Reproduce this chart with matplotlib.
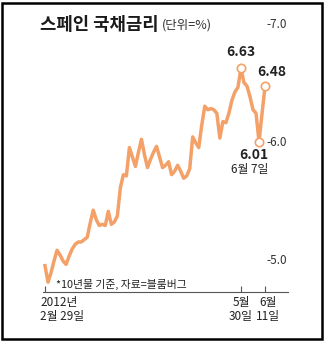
import matplotlib
matplotlib.use("Agg")
import matplotlib.pyplot as plt
from matplotlib.patches import Rectangle

plt.rcParams['font.family'] = ['Noto Sans CJK KR', 'DejaVu Sans']

# 스페인 10년물 국채금리 (2012.2.29 ~ 6.11, 영업일 기준)
rates = [4.96, 4.82, 4.90, 5.00, 5.09, 5.05, 5.00, 4.97, 5.04, 5.10,
         5.14, 5.16, 5.16, 5.18, 5.20, 5.32, 5.43, 5.35, 5.30, 5.31,
         5.30, 5.42, 5.31, 5.33, 5.38, 5.62, 5.73, 5.72, 5.96, 5.88,
         5.80, 5.92, 6.03, 5.90, 5.79, 5.86, 5.92, 5.97, 5.88, 5.79,
         5.81, 5.84, 5.73, 5.76, 5.81, 5.76, 5.70, 5.72, 5.78, 6.05,
         6.00, 5.96, 6.15, 6.31, 6.28, 6.29, 6.28, 6.25, 6.04, 6.18,
         6.17, 6.25, 6.36, 6.43, 6.47, 6.63, 6.51, 6.48, 6.39, 6.28,
         6.25, 6.01, 6.25, 6.48]
tick_idx = [0, 65, 73]
tick_labels = ["2012년\n2월 29일", "5월\n30일", "6월\n11일"]
y_levels = [7.0, 6.0, 5.0]
marks = {65: "6.63", 73: "6.48", 71: "6.01"}

line_color = "#F4A169"

fig = plt.figure(figsize=(3.25, 3.44), dpi=100)
ax = fig.add_axes([0.1323, 0.1512, 0.7538, 0.7907])

x = list(range(len(rates)))
ax.plot(x, rates, color=line_color, lw=2.5, solid_joinstyle='round', zorder=2)
for i in marks:
    ax.plot(i, rates[i], 'o', ms=6, mfc='white', mec=line_color, mew=1.2, zorder=3)

ax.set_xlim(-0.66, 80.6)
ax.set_ylim(4.737, 7.04)

# 축 정리
for s in ['left', 'top', 'right']:
    ax.spines[s].set_visible(False)
ax.spines['bottom'].set_color('#555555')
ax.spines['bottom'].set_linewidth(0.8)
ax.set_yticks([])
ax.set_xticks(tick_idx)
ax.set_xticklabels([])
ax.tick_params(axis='x', direction='in', length=4, width=0.8, color='#555555')

# 날짜 라벨 (겹치지 않게 직접 배치)
xtrans = ax.get_xaxis_transform()
label_pos = [(-1.6, 'left'), (65, 'center'), (73.9, 'center')]
for (px, ha), lab in zip(label_pos, tick_labels):
    ax.text(px, -0.015, lab, transform=xtrans, ha=ha, va='top',
            fontsize=8.5, linespacing=1.05, color='#222222')

# 오른쪽 눈금 값
ytrans = ax.get_yaxis_transform()
for v in y_levels:
    ax.text(0.914, v, "-%.1f" % v, transform=ytrans, fontsize=8.5,
            va='center', ha='left', color='#333333')

# 값 표시
ax.text(65, rates[65] + 0.14, marks[65], ha='center', va='center',
        fontsize=10, fontweight='bold', color='#222222')
ax.text(75.3, rates[73] + 0.12, marks[73], ha='center', va='center',
        fontsize=10, fontweight='bold', color='#222222')
ax.text(74, rates[71] - 0.05, marks[71], ha='right', va='top',
        fontsize=10, fontweight='bold', color='#222222')
ax.text(74, rates[71] - 0.18, "6월 7일", ha='right', va='top',
        fontsize=8.5, color='#222222')

ax.text(3.5, 4.80, "*10년물 기준, 자료=블룸버그", ha='left', va='center',
        fontsize=7.8, color='#222222')

# 제목
fig.text(40 / 325, 1 - 25 / 344, "스페인 국채금리", fontsize=12.8,
         fontweight='bold', ha='left', va='center', color='#1a1a1a')
fig.text(162 / 325, 1 - 25 / 344, "(단위=%)", fontsize=9,
         ha='left', va='center', color='#333333')

# 테두리
fig.patches.append(Rectangle((1.5 / 325, 5 / 344), 320 / 325, 336 / 344,
                             transform=fig.transFigure, fill=False,
                             ec='black', lw=1.8))

fig.savefig("out.png", dpi=100, facecolor='white')
